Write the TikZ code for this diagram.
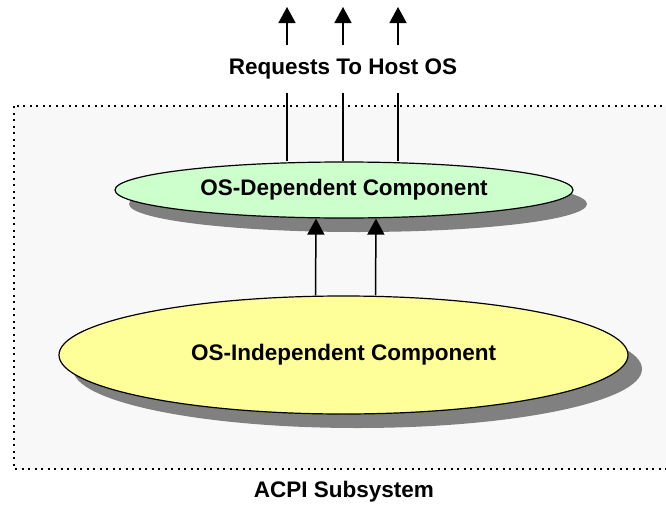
\documentclass[tikz,border=0pt]{standalone}
\usepackage{fontspec}
\setmainfont{Liberation Sans}
\definecolor{depgreen}{RGB}{204,255,204}
\definecolor{indepyellow}{RGB}{255,255,153}
\definecolor{framegray}{RGB}{248,248,248}
\definecolor{shadowgray}{RGB}{128,128,128}
\usetikzlibrary{shapes.geometric,arrows.meta,positioning,calc,shadows}

\begin{document}
\begin{tikzpicture}[x=1pt,y=-1pt,
    labeltext/.style={font=\fontsize{22.5}{26}\selectfont\bfseries},
    layer/.style={ellipse, draw, line width=1.2pt, inner sep=0pt, labeltext,
        drop shadow={shadow xshift=14pt, shadow yshift=-14pt, fill=shadowgray, opacity=1}},
    uparrow/.style={line width=1.5pt, -{Triangle[width=17pt,length=16pt]}}]
    \useasboundingbox (0,0) rectangle (666,506);
    % subsystem frame
    \draw[fill=framegray, line width=2.2pt, dash pattern=on 2pt off 4.5pt]
        (14,106) rectangle (690,469);
    \node[labeltext] (acpi) at (344,492) {ACPI Subsystem};
    % the two components
    \node[layer, fill=indepyellow, minimum width=569pt, minimum height=118pt]
        (indep) at (343.5,355) {OS-Independent Component};
    \node[layer, fill=depgreen, minimum width=458pt, minimum height=56pt]
        (dep) at (344,190) {OS-Dependent Component};
    % requests going out
    \node[labeltext, text height=16pt, text depth=4.5pt, inner ysep=13.75pt]
        (req) at (343,69) {Requests To Host OS};
    \coordinate (tip1) at (287,7);
    \coordinate (tip2) at (343,7);
    \coordinate (tip3) at (398,7);
    \foreach \t in {tip1,tip2,tip3}{
        \draw[line width=1.5pt] (dep.north -| \t) -- (req.south -| \t);
        \draw[uparrow] (req.north -| \t) -- (\t);
    }
    % calls up to the OS-dependent part
    \draw[uparrow] ([xshift=-28pt]indep.north) -- ([xshift=-28pt]dep.south);
    \draw[uparrow] ([xshift=32pt]indep.north) -- ([xshift=32pt]dep.south);
\end{tikzpicture}
\end{document}
